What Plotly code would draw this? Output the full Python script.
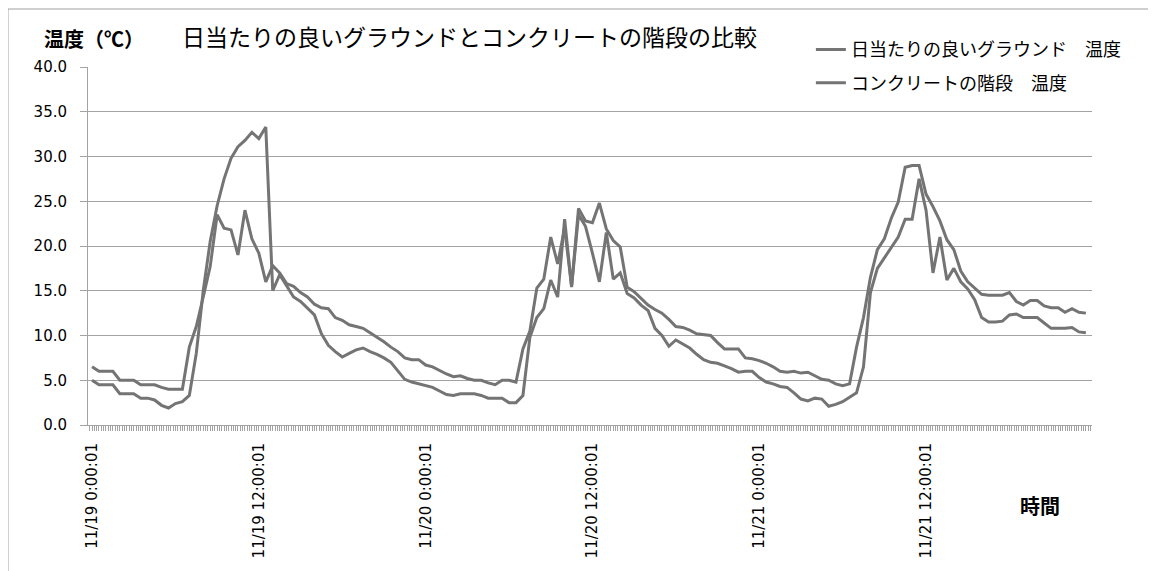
import plotly.graph_objects as go
import pandas as pd

# ---- data (30-minute readings) ----
start_time = "2023-11-19 00:00:01"
step_minutes = 30

ground_name = "日当たりの良いグラウンド　温度"
stairs_name = "コンクリートの階段　温度"

ground_temp = [
    5.0, 4.5, 4.5, 4.5, 3.5, 3.5, 3.5, 3.0, 3.0, 2.8, 2.2, 1.9, 2.4, 2.6,
    3.3, 8.0, 15.0, 20.5, 24.5, 27.5, 29.8, 31.1, 31.8, 32.7, 32.0, 33.3, 15.0, 16.8,
    15.5, 14.3, 13.8, 13.1, 12.3, 10.2, 8.9, 8.2, 7.6, 8.0, 8.4, 8.6, 8.2, 7.9,
    7.5, 7.0, 6.1, 5.1, 4.8, 4.6, 4.4, 4.2, 3.8, 3.4, 3.3, 3.5, 3.5, 3.5,
    3.3, 3.0, 3.0, 3.0, 2.5, 2.5, 3.3, 9.8, 12.0, 13.0, 16.2, 14.3, 23.0, 15.4,
    23.5, 22.2, 19.2, 16.0, 21.5, 16.3, 17.0, 14.7, 14.2, 13.4, 12.8, 10.8, 10.0, 8.8,
    9.5, 9.0, 8.6, 7.9, 7.3, 7.0, 6.9, 6.6, 6.3, 5.9, 6.0, 6.0, 5.3, 4.8,
    4.6, 4.3, 4.2, 3.6, 2.9, 2.7, 3.0, 2.9, 2.1, 2.3, 2.6, 3.1, 3.6, 6.5,
    14.8, 17.5, 18.7, 19.8, 21.0, 23.0, 23.0, 27.5, 24.0, 17.0, 21.0, 16.2, 17.5, 16.0,
    15.2, 14.0, 12.0, 11.5, 11.5, 11.6, 12.3, 12.4, 12.0, 12.0, 12.0, 11.4, 10.8, 10.8,
    10.8, 10.9, 10.4, 10.3,
]

stairs_temp = [
    6.5, 6.0, 6.0, 6.0, 5.0, 5.0, 5.0, 4.5, 4.5, 4.5, 4.2, 4.0, 4.0, 4.0,
    8.7, 11.0, 14.3, 17.7, 23.5, 22.0, 21.8, 19.0, 24.0, 20.8, 19.2, 16.0, 17.8, 17.0,
    15.8, 15.5, 14.8, 14.3, 13.5, 13.1, 13.0, 12.0, 11.7, 11.2, 11.0, 10.8, 10.3, 9.8,
    9.3, 8.7, 8.2, 7.5, 7.3, 7.3, 6.7, 6.5, 6.1, 5.7, 5.4, 5.5, 5.2, 5.0,
    5.0, 4.7, 4.5, 5.0, 5.0, 4.8, 8.5, 10.5, 15.3, 16.3, 21.0, 18.0, 22.0, 15.5,
    24.2, 22.8, 22.6, 24.8, 21.9, 20.6, 19.9, 15.4, 14.9, 14.2, 13.4, 12.9, 12.5, 11.8,
    11.0, 10.9, 10.6, 10.2, 10.1, 10.0, 9.2, 8.5, 8.5, 8.5, 7.5, 7.4, 7.2, 6.9,
    6.5, 6.0, 5.9, 6.0, 5.8, 5.9, 5.5, 5.1, 5.0, 4.6, 4.4, 4.6, 8.7, 12.0,
    16.5, 19.6, 20.8, 23.1, 24.9, 28.8, 29.0, 29.0, 25.8, 24.4, 22.8, 20.7, 19.6, 17.2,
    16.0, 15.3, 14.6, 14.5, 14.5, 14.5, 14.8, 13.8, 13.4, 13.9, 13.9, 13.3, 13.1, 13.1,
    12.6, 13.0, 12.6, 12.5,
]

t0 = pd.Timestamp(start_time)
times = [t0 + pd.Timedelta(minutes=step_minutes * i) for i in range(len(ground_temp))]

FONT = "Noto Sans CJK JP, Noto Sans, sans-serif"
NUMFONT = "DejaVu Sans, sans-serif"
LINE = "#747474"
GRID = "#a3a3a3"

fig = go.Figure()
fig.add_trace(go.Scatter(x=times, y=ground_temp, mode="lines", name=ground_name,
                         legendgroup="g1", line=dict(color=LINE, width=3)))
fig.add_trace(go.Scatter(x=times, y=stairs_temp, mode="lines", name=stairs_name,
                         legendgroup="g2", line=dict(color=LINE, width=3)))

x_lo = t0 - pd.Timedelta(hours=0.29)
x_hi = t0 + pd.Timedelta(hours=71.94)

# page body has an 8px margin, so the figure is sized/offset to compensate
fig.update_layout(
    width=1148, height=563,
    margin=dict(l=80, r=64, t=59, b=146),
    paper_bgcolor="white", plot_bgcolor="white",
    font=dict(family=FONT, color="black"),
    showlegend=True,
    legend=dict(x=0.72, y=1.10, xanchor="left", yanchor="top",
                bgcolor="rgba(0,0,0,0)", font=dict(size=18, family=FONT),
                tracegroupgap=7, itemwidth=30),
    xaxis=dict(
        type="date", range=[x_lo, x_hi],
        tick0=start_time, dtick=12 * 3600 * 1000,
        tickformat="%m/%d %-H:%M:%S", tickangle=-90,
        tickfont=dict(size=15, family=NUMFONT),
        ticks="outside", ticklen=5, tickcolor=GRID,
        showgrid=False, zeroline=False,
        showline=True, linecolor=GRID, linewidth=1,
        ticklabelstandoff=6,
        minor=dict(dtick=10 * 60 * 1000, ticks="outside", ticklen=5,
                   tickcolor=GRID, showgrid=False),
    ),
    yaxis=dict(
        range=[0, 40], dtick=5, tickformat=".1f",
        tickfont=dict(size=15, family=NUMFONT),
        ticks="outside", ticklen=7, tickcolor=GRID,
        showgrid=True, gridcolor=GRID, gridwidth=1,
        zeroline=False, showline=True, linecolor=GRID, linewidth=1,
        ticklabelstandoff=10,
    ),
)

fig.add_annotation(text="日当たりの良いグラウンドとコンクリートの階段の比較",
                   xref="paper", yref="paper", x=0.0916, y=1.0866,
                   xanchor="left", yanchor="middle", showarrow=False,
                   font=dict(size=23, family=FONT, color="black"))
fig.add_annotation(text="<b>温度（℃）</b>",
                   xref="paper", yref="paper", x=-0.0458, y=1.081,
                   xanchor="left", yanchor="middle", showarrow=False,
                   font=dict(size=20, family=FONT, color="black"))
fig.add_annotation(text="<b>時間</b>",
                   xref="paper", yref="paper", x=0.926, y=-0.2235,
                   xanchor="left", yanchor="middle", showarrow=False,
                   font=dict(size=20, family=FONT, color="black"))

# chart-area border (only top and left edges are visible in the frame)
fig.add_shape(type="rect", xref="paper", yref="paper",
              x0=-0.0797, y0=-0.6, x1=1.3, y1=1.162,
              line=dict(color="#a0a0a0", width=1), fillcolor="rgba(0,0,0,0)",
              layer="below")

fig.write_html("out.html")
